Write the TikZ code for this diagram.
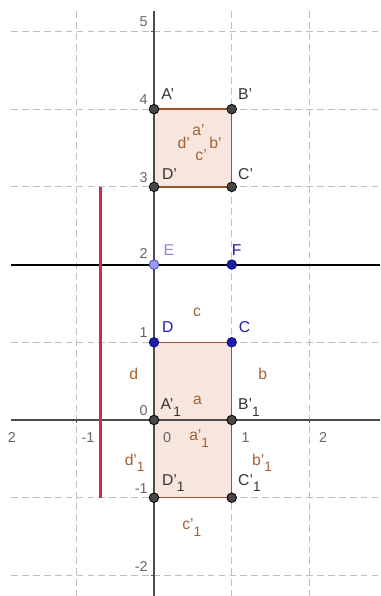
\documentclass[tikz,border=0pt]{standalone}
\usepackage{fontspec}
\setmainfont{Liberation Sans}
\usepackage{xcolor}
\usepackage{tikz}
\usetikzlibrary{positioning}

\definecolor{sidebrown}{HTML}{A0522D}
\definecolor{labbrown}{HTML}{A8602E}
\definecolor{sqfill}{HTML}{F7E6DE}
\definecolor{ptblue}{HTML}{1C1CA8}
\definecolor{ptlight}{HTML}{9A9AF0}
\definecolor{linered}{HTML}{C4314B}
\newcommand{\lowone}{\raisebox{-4.5pt}{\fontsize{10}{10}\selectfont 1}}

\begin{document}
\begin{tikzpicture}[x=2cm, y=2cm,
        gridline/.style={black!25, line width=0.6pt, dash pattern=on 5pt off 3pt},
        axis/.style={black!70, line width=1pt},
        num/.style={font=\fontsize{10.5}{12}\selectfont, text=black!60, inner sep=0pt},
        dot/.style={circle, draw=black, fill=black!72, line width=0.6pt,
            inner sep=0pt, minimum size=7pt},
        bluedot/.style={dot, fill=ptblue, draw=ptblue!70!black},
        lightdot/.style={dot, fill=ptlight, draw=ptblue!80},
        plab/.style={font=\fontsize{11.5}{13}\selectfont, text=black!80,
            inner sep=0pt, anchor=base west},
        bluelab/.style={plab, text=ptblue},
        lightlab/.style={plab, text=ptlight!90!black},
        seglab/.style={font=\fontsize{11.5}{13}\selectfont, text=labbrown,
            inner sep=0pt, anchor=base west},
        side/.style={draw=sidebrown, line width=1pt, fill=sqfill},
        redseg/.style={draw=linered, line width=2pt},
        eline/.style={draw=black, line width=1.4pt}
    ]
        \useasboundingbox (-1.982,-2.265) rectangle (2.909,5.405);

        \foreach \y in {-2,-1,1,3,4,5}
            \draw[gridline] (-1.84,\y) -- (2.909,\y);
        \foreach \x in {-1,1,2}
            \draw[gridline] (\x,5.26) -- (\x,-2.265);

        \coordinate (xl) at (-1.84,0);
        \coordinate (xr) at (2.909,0);
        \coordinate (yt) at (0,5.26);
        \coordinate (yb) at (0,-2.265);
        \coordinate (Ap) at (0,4);
        \coordinate (Bp) at (1,4);
        \coordinate (Cp) at (1,3);
        \coordinate (Dp) at (0,3);
        \coordinate (D) at (0,1);
        \coordinate (C) at (1,1);
        \coordinate (Aq) at (0,0);
        \coordinate (Bq) at (1,0);
        \coordinate (Cq) at (1,-1);
        \coordinate (Dq) at (0,-1);
        \coordinate (E) at (0,2);
        \coordinate (F) at (1,2);
        \coordinate (el) at (-1.84,2);
        \coordinate (er) at (2.909,2);
        \coordinate (rt) at (-0.69,3);
        \coordinate (rb) at (-0.69,-1);

        \draw[side] (Ap) -- (Bp) -- (Cp) -- (Dp) -- cycle;
        \draw[side] (D) -- (C) -- (Bq) -- (Aq) -- cycle;
        \draw[side] (Aq) -- (Bq) -- (Cq) -- (Dq) -- cycle;

        \draw[axis] (xl) -- (xr);
        \draw[axis] (yt) -- (yb);
        \foreach \y in {-2,-1,1,3,4,5}
            \draw[axis, line width=0.6pt] (0,\y) -- ++(-0.04,0);
        \foreach \x in {-1,1,2}
            \draw[axis, line width=0.6pt] (\x,0) -- ++(0,-0.04);

        \draw[eline] (el) -- (er);
        \draw[redseg] (rt) -- (rb);

        \foreach \v [count=\i] in {-2,-1,0,1,3,4,5}
            \node[num, anchor=east] (yn\i) at (-0.08,\v+0.12) {\v};
        \node[num, anchor=east] (yn2b) at (-0.08,2.14) {2};
        \foreach \x/\t [count=\i] in {-1.83/2, -0.85/-1, 0.17/0, 1.18/1, 2.175/2}
            \node[num] (xn\i) at (\x,-0.22) {\t};

        \node[dot] (nAp) at (Ap) {};
        \node[dot] (nBp) at (Bp) {};
        \node[dot] (nCp) at (Cp) {};
        \node[dot] (nDp) at (Dp) {};
        \node[bluedot] (nD) at (D) {};
        \node[bluedot] (nC) at (C) {};
        \node[dot] (nAq) at (Aq) {};
        \node[dot] (nBq) at (Bq) {};
        \node[dot] (nCq) at (Cq) {};
        \node[dot] (nDq) at (Dq) {};
        \node[lightdot] (nE) at (E) {};
        \node[bluedot] (nF) at (F) {};

        \node[plab] (lAp) at (0.09,4.12) {A'};
        \node[plab] (lBp) at (1.08,4.12) {B'};
        \node[plab] (lDp) at (0.10,3.09) {D'};
        \node[plab] (lCp) at (1.08,3.09) {C'};
        \node[lightlab] (lE) at (0.12,2.12) {E};
        \node[bluelab] (lF) at (1.00,2.12) {F};
        \node[bluelab] (lD) at (0.10,1.12) {D};
        \node[bluelab] (lC) at (1.09,1.12) {C};
        \node[plab] (lAq) at (0.08,0.13) {A'\lowone};
        \node[plab] (lBq) at (1.08,0.13) {B'\lowone};
        \node[plab] (lDq) at (0.10,-0.84) {D'\lowone};
        \node[plab] (lCq) at (1.08,-0.84) {C'\lowone};

        \node[seglab] (sap) at (0.49,3.66) {a'};
        \node[seglab] (sdp) at (0.30,3.50) {d'};
        \node[seglab] (sbp) at (0.71,3.50) {b'};
        \node[seglab] (scp) at (0.53,3.34) {c'};
        \node[seglab] (sc) at (0.50,1.33) {c};
        \node[seglab] (sd) at (-0.32,0.52) {d};
        \node[seglab] (sb) at (1.34,0.52) {b};
        \node[seglab] (sa) at (0.50,0.20) {a};
        \node[seglab] (saq) at (0.45,-0.27) {a'\lowone};
        \node[seglab] (sdq) at (-0.38,-0.58) {d'\lowone};
        \node[seglab] (sbq) at (1.26,-0.58) {b'\lowone};
        \node[seglab] (scq) at (0.36,-1.415) {c'\lowone};
    \end{tikzpicture}
\end{document}
